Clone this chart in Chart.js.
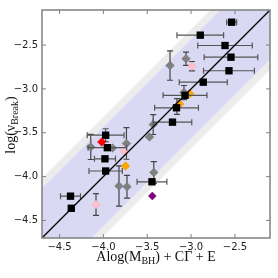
<!DOCTYPE html>
<html>
<head>
<meta charset="utf-8">
<script src="https://cdn.jsdelivr.net/npm/chart.js@4"></script>
<style>
  html, body { margin: 0; padding: 0; background: #fff; }
  #wrap { width: 278px; height: 278px; }
</style>
</head>
<body>
<div id="wrap"><canvas id="chart"></canvas></div>
<script>
// axis range and ticks (same on both axes)
const AXIS_MIN = -4.7;
const AXIS_MAX = -2.1;
const TICKS = [-4.5, -4.0, -3.5, -3.0, -2.5];

// scatter band around the 1:1 relation
const BAND_INNER = 0.57;
const BAND_OUTER = 0.68;

// black squares
const SQ_X    = [-2.537, -2.895, -2.613, -2.545, -2.568, -2.861, -3.069, -3.166, -3.212, -3.974, -3.955, -3.982, -3.974, -3.446, -4.375, -4.366];
const SQ_Y    = [-2.239, -2.387, -2.505, -2.638, -2.793, -2.923, -3.073, -3.215, -3.379, -3.528, -3.670, -3.797, -3.936, -4.059, -4.223, -4.361];
const SQ_XERR = [0.057, 0.266, 0.311, 0.306, 0.29, 0.274, 0.25, 0.25, 0.22, 0.21, 0.22, 0.12, 0.19, 0.17, 0.114, 0];
const SQ_YERR = [0, 0, 0, 0, 0, 0, 0, 0, 0, 0.074, 0, 0, 0, 0, 0, 0];

// grey diamonds
const GR_X    = [-3.240, -3.058, -3.432, -3.474, -4.144, -3.737, -3.896, -3.822, -3.731, -3.425, -3.081, -3.161];
const GR_Y    = [-2.733, -2.656, -3.406, -3.548, -3.662, -3.622, -3.674, -4.107, -4.116, -3.953, -3.041, -3.200];
const GR_YERR = [0.168, 0.076, 0.114, 0, 0.143, 0.18, 0, 0.23, 0.13, 0.125, 0.08, 0.09];

// pink diamonds
const PK_X    = [-2.990, -3.765, -4.084];
const PK_Y    = [-2.741, -3.708, -4.318];
const PK_YERR = [0.054, 0, 0.125];

// single coloured sources
const RED_X = [-4.019];
const RED_Y = [-3.605];
const OR_X  = [-3.015, -3.130, -3.748];
const OR_Y  = [-3.054, -3.172, -3.879];
const PU_X  = [-3.442];
const PU_Y  = [-4.221];

const pts = (xs, ys) => xs.map((x, i) => ({ x: x, y: ys[i] }));
const offsetLine = off => [AXIS_MIN - 1, AXIS_MAX + 1].map(x => ({ x: x, y: x + off }));

// error bars, drawn just before the markers of their dataset
const errorBars = {
    id: 'errorBars',
    beforeDatasetDraw(chart, args) {
        const ds = chart.data.datasets[args.index];
        if (!ds.errX && !ds.errY) return;
        const ctx = chart.ctx;
        const sx = chart.scales.x, sy = chart.scales.y;
        const cap = 3;
        ctx.save();
        ctx.strokeStyle = ds.errColor || '#555';
        ctx.lineWidth = 1.2;
        ds.data.forEach((p, i) => {
            const px = sx.getPixelForValue(p.x);
            const py = sy.getPixelForValue(p.y);
            const ex = ds.errX ? ds.errX[i] : 0;
            const ey = ds.errY ? ds.errY[i] : 0;
            ctx.beginPath();
            if (ex > 0) {
                const x0 = sx.getPixelForValue(p.x - ex);
                const x1 = sx.getPixelForValue(p.x + ex);
                ctx.moveTo(x0, py); ctx.lineTo(x1, py);
                ctx.moveTo(x0, py - cap); ctx.lineTo(x0, py + cap);
                ctx.moveTo(x1, py - cap); ctx.lineTo(x1, py + cap);
            }
            if (ey > 0) {
                const y0 = sy.getPixelForValue(p.y - ey);
                const y1 = sy.getPixelForValue(p.y + ey);
                ctx.moveTo(px, y0); ctx.lineTo(px, y1);
                ctx.moveTo(px - cap, y0); ctx.lineTo(px + cap, y0);
                ctx.moveTo(px - cap, y1); ctx.lineTo(px + cap, y1);
            }
            ctx.stroke();
        });
        ctx.restore();
    }
};

// draws a string made of normal and subscript parts, centred on (cx, baseline)
function drawRich(ctx, parts, cx, cy, angle) {
    ctx.save();
    ctx.translate(cx, cy);
    ctx.rotate(angle);
    ctx.textAlign = 'left';
    ctx.textBaseline = 'alphabetic';
    ctx.fillStyle = '#111';
    let total = 0;
    parts.forEach(p => {
        ctx.font = p.sub ? '10px "Liberation Serif"' : '14px "Liberation Serif"';
        total += ctx.measureText(p.t).width;
    });
    let x = -total / 2;
    parts.forEach(p => {
        ctx.font = p.sub ? '10px "Liberation Serif"' : '14px "Liberation Serif"';
        ctx.fillText(p.t, x, p.sub ? 3 : 0);
        x += ctx.measureText(p.t).width;
    });
    ctx.restore();
}

// frame, inward ticks on all sides and axis titles
const frame = {
    id: 'frame',
    afterDraw(chart) {
        const { ctx, chartArea: a } = chart;
        const sx = chart.scales.x, sy = chart.scales.y;
        const tl = 4;
        ctx.save();
        ctx.strokeStyle = '#808080';
        ctx.lineWidth = 1.5;
        ctx.strokeRect(a.left, a.top, a.right - a.left, a.bottom - a.top);
        ctx.lineWidth = 1;
        ctx.beginPath();
        TICKS.forEach(v => {
            const px = sx.getPixelForValue(v);
            ctx.moveTo(px, a.bottom); ctx.lineTo(px, a.bottom - tl);
            ctx.moveTo(px, a.top); ctx.lineTo(px, a.top + tl);
            const py = sy.getPixelForValue(v);
            ctx.moveTo(a.left, py); ctx.lineTo(a.left + tl, py);
            ctx.moveTo(a.right, py); ctx.lineTo(a.right - tl, py);
        });
        ctx.stroke();
        ctx.restore();

        drawRich(ctx, [{ t: 'Alog(M' }, { t: 'BH', sub: true }, { t: ') + CΓ + E' }],
            (a.left + a.right) / 2, 261, 0);
        drawRich(ctx, [{ t: 'log(ν' }, { t: 'Break', sub: true }, { t: ')' }],
            15, 125, -Math.PI / 2);
    }
};

const tickLabel = v => '\u2212' + Math.abs(v).toFixed(1);

new Chart(document.getElementById('chart'), {
    type: 'scatter',
    data: {
        datasets: [
            { type: 'line', data: offsetLine(BAND_OUTER), borderWidth: 0, pointRadius: 0,
              fill: '+1', backgroundColor: '#ececec', order: 10 },
            { type: 'line', data: offsetLine(BAND_INNER), borderWidth: 0, pointRadius: 0,
              fill: '+1', backgroundColor: '#d9d9f3', order: 9 },
            { type: 'line', data: offsetLine(-BAND_INNER), borderWidth: 0, pointRadius: 0,
              fill: '+1', backgroundColor: '#ececec', order: 8 },
            { type: 'line', data: offsetLine(-BAND_OUTER), borderWidth: 0, pointRadius: 0,
              fill: false, order: 7 },
            { data: pts(GR_X, GR_Y), errY: GR_YERR, errColor: '#444',
              pointStyle: 'rectRot', pointRadius: 4.3, backgroundColor: '#808080',
              borderColor: '#707070', borderWidth: 0.5, order: 6 },
            { data: pts(OR_X, OR_Y), pointStyle: 'rectRot', pointRadius: 4.3,
              backgroundColor: '#ffa500', borderColor: '#e69500', borderWidth: 0.5, order: 5 },
            { data: pts(PK_X, PK_Y), errY: PK_YERR, errColor: '#444',
              pointStyle: 'rectRot', pointRadius: 4.3, backgroundColor: '#ffc0cb',
              borderColor: '#f0b0bb', borderWidth: 0.5, order: 4 },
            { data: pts(SQ_X, SQ_Y), errX: SQ_XERR, errY: SQ_YERR, errColor: '#555',
              pointStyle: 'rect', pointRadius: 5.2, backgroundColor: '#000',
              borderColor: '#000', borderWidth: 0, order: 3 },
            { data: pts(RED_X, RED_Y), pointStyle: 'rectRot', pointRadius: 4.3,
              backgroundColor: '#ff0000', borderColor: '#e00000', borderWidth: 0.5, order: 2 },
            { data: pts(PU_X, PU_Y), pointStyle: 'rectRot', pointRadius: 4,
              backgroundColor: '#800080', borderColor: '#700070', borderWidth: 0.5, order: 1 },
            { type: 'line', data: pts([AXIS_MIN, AXIS_MAX], [AXIS_MIN, AXIS_MAX]),
              borderColor: '#000', borderWidth: 1.3, pointRadius: 0, fill: false, order: 0 }
        ]
    },
    options: {
        responsive: true,
        maintainAspectRatio: false,
        animation: false,
        events: [],
        layout: { padding: { left: 0, top: 10, right: 8, bottom: 0 } },
        plugins: {
            legend: { display: false },
            tooltip: { enabled: false }
        },
        scales: {
            x: {
                type: 'linear',
                min: AXIS_MIN,
                max: AXIS_MAX,
                grid: { display: false, drawTicks: false, tickLength: 0 },
                border: { display: false },
                afterBuildTicks: s => { s.ticks = TICKS.map(v => ({ value: v })); },
                afterFit: s => { s.height = 40; },
                ticks: {
                    padding: 3,
                    color: '#222',
                    font: { family: 'DejaVu Sans', size: 10 },
                    maxRotation: 0,
                    callback: tickLabel
                }
            },
            y: {
                type: 'linear',
                min: AXIS_MIN,
                max: AXIS_MAX,
                grid: { display: false, drawTicks: false, tickLength: 0 },
                border: { display: false },
                afterBuildTicks: s => { s.ticks = TICKS.map(v => ({ value: v })); },
                afterFit: s => { s.width = 42; },
                ticks: {
                    padding: 4,
                    color: '#222',
                    font: { family: 'DejaVu Sans', size: 10 },
                    callback: tickLabel
                }
            }
        }
    },
    plugins: [errorBars, frame]
});
</script>
</body>
</html>
